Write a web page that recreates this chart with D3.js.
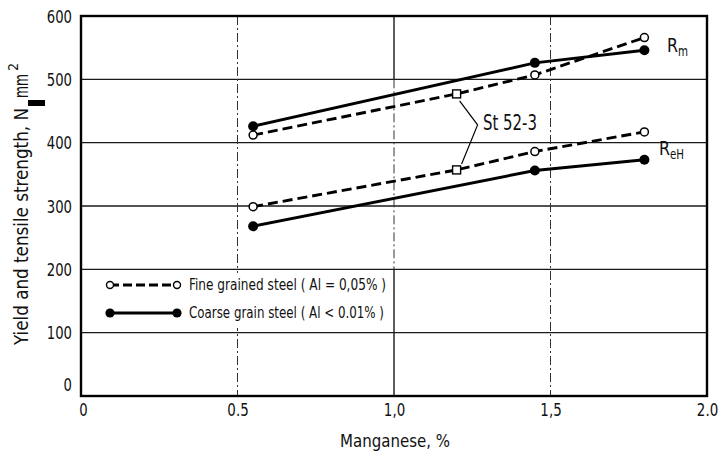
<!DOCTYPE html>
<html>
<head>
<meta charset="utf-8">
<script src="https://cdn.jsdelivr.net/npm/d3@7/dist/d3.min.js"></script>
<style>
  html, body { margin: 0; padding: 0; background: #fff; }
  svg { display: block; }
  text { font-family: "Liberation Sans Narrow", "DejaVu Sans Condensed", "Liberation Sans", Arial, sans-serif; fill: #111; }
</style>
</head>
<body>
<svg id="chart" width="726" height="455"></svg>
<script>
// Manganese content (%) of the measured steels
const mn = [0.55, 1.45, 1.8];
// Tensile strength Rm, N/mm²
const fineRm = [412, 507, 566];
const coarseRm = [426, 526, 546];
// Upper yield strength ReH, N/mm²
const fineReH = [299, 386, 417];
const coarseReH = [268, 356, 373];
// St 52-3 reference points on the fine-grained curves
const st52Mn = 1.2;
const st52Rm = 477;
const st52ReH = 357;

const xTicks = [0, 0.5, 1.0, 1.5, 2.0];
const xTickLabels = ["0", "0.5", "1,0", "1,5", "2.0"];
const yTicks = [0, 100, 200, 300, 400, 500, 600];
const yTickLabels = ["0", "100", "200", "300", "400", "500", "600"];

const FONT = '"Liberation Sans Narrow", "DejaVu Sans Condensed", "Liberation Sans", Arial, sans-serif';
// narrow lettering: width from digit count, punctuation narrower
const narrowLen = s => Array.from(s).reduce((w, c) => w + (/[0-9]/.test(c) ? 8.4 : 4.5), 0);

const svg = d3.select("#chart");
const x = d3.scaleLinear().domain([0, 2]).range([81, 707]);
const y = d3.scaleLinear().domain([0, 600]).range([396, 16]);

// ---- grid ----
const grid = svg.append("g");
grid.selectAll("line.h").data([100, 200, 300, 400, 500]).join("line")
  .attr("x1", x(0)).attr("x2", x(2))
  .attr("y1", d => y(d)).attr("y2", d => y(d))
  .attr("stroke", "#1a1a1a").attr("stroke-width", 1.3);
// dash-dot verticals at 0.5 and 1.5
grid.selectAll("line.v").data([0.5, 1.5]).join("line")
  .attr("x1", d => x(d)).attr("x2", d => x(d))
  .attr("y1", y(600)).attr("y2", y(0))
  .attr("stroke", "#333").attr("stroke-width", 1)
  .attr("stroke-dasharray", "9,3,2,3");
// 1.0 vertical: solid near the frame, dash-dot in the middle
grid.append("line").attr("x1", x(1)).attr("x2", x(1)).attr("y1", y(600)).attr("y2", y(500))
  .attr("stroke", "#1a1a1a").attr("stroke-width", 1.4);
grid.append("line").attr("x1", x(1)).attr("x2", x(1)).attr("y1", y(500)).attr("y2", y(200))
  .attr("stroke", "#333").attr("stroke-width", 1).attr("stroke-dasharray", "9,3,2,3");
grid.append("line").attr("x1", x(1)).attr("x2", x(1)).attr("y1", y(200)).attr("y2", y(0))
  .attr("stroke", "#1a1a1a").attr("stroke-width", 1.4);

// ---- frame ----
svg.append("rect")
  .attr("x", x(0)).attr("y", y(600))
  .attr("width", x(2) - x(0)).attr("height", y(0) - y(600))
  .attr("fill", "none").attr("stroke", "#000").attr("stroke-width", 2.4);

// ---- axes ----
const xAxis = d3.axisBottom(x).tickValues(xTicks).tickSize(0).tickPadding(7)
  .tickFormat((d, i) => xTickLabels[i]);
const gx = svg.append("g").attr("transform", `translate(0,${y(0)})`).call(xAxis);
gx.select(".domain").remove();
gx.selectAll("text").attr("font-size", 18).attr("fill", "#111").attr("font-family", FONT)
  .attr("textLength", (d, i) => narrowLen(xTickLabels[i])).attr("lengthAdjust", "spacingAndGlyphs")
  .attr("dx", (d, i) => i === 0 ? 2 : 0);

const yAxis = d3.axisLeft(y).tickValues(yTicks).tickSize(0).tickPadding(9)
  .tickFormat((d, i) => yTickLabels[i]);
const gy = svg.append("g").attr("transform", `translate(${x(0)},0)`).call(yAxis);
gy.select(".domain").remove();
gy.selectAll("text").attr("font-size", 18).attr("fill", "#111").attr("font-family", FONT)
  .attr("textLength", (d, i) => narrowLen(yTickLabels[i])).attr("lengthAdjust", "spacingAndGlyphs")
  .attr("dy", d => d === 0 ? "-0.3em" : "0.34em");

// x-axis title
svg.append("text").attr("x", 395).attr("y", 447).attr("text-anchor", "middle")
  .attr("font-size", 18).attr("textLength", 110).attr("lengthAdjust", "spacingAndGlyphs")
  .text("Manganese, %");

// y-axis title (rotated), with the solid block standing in for the slash
const yl = svg.append("g").attr("transform", "translate(28,345) rotate(-90)");
yl.append("text").attr("x", 0).attr("y", 0).attr("font-size", 20)
  .attr("textLength", 237).attr("lengthAdjust", "spacingAndGlyphs")
  .text("Yield and tensile strength, N");
yl.append("rect").attr("x", 239).attr("y", 0).attr("width", 6).attr("height", 17).attr("fill", "#000");
yl.append("text").attr("x", 247).attr("y", 0).attr("font-size", 20)
  .attr("textLength", 24).attr("lengthAdjust", "spacingAndGlyphs").text("mm");
yl.append("text").attr("x", 274).attr("y", -10).attr("font-size", 14).text("2");

// ---- series ----
const dashPts = (vals, st) => {
  const p = mn.map((m, i) => [m, vals[i]]);
  p.push([st52Mn, st]);
  return p.sort((a, b) => a[0] - b[0]);
};
const line = d3.line().x(d => x(d[0])).y(d => y(d[1]));

const curves = [
  { pts: dashPts(fineRm, st52Rm), dashed: true },
  { pts: dashPts(fineReH, st52ReH), dashed: true },
  { pts: mn.map((m, i) => [m, coarseRm[i]]), dashed: false },
  { pts: mn.map((m, i) => [m, coarseReH[i]]), dashed: false }
];
svg.append("g").selectAll("path").data(curves).join("path")
  .attr("d", d => line(d.pts))
  .attr("fill", "none").attr("stroke", "#000").attr("stroke-width", 2.9)
  .attr("stroke-dasharray", d => d.dashed ? "10,5" : null);

// St 52-3 leader
svg.append("path")
  .attr("d", `M${x(st52Mn) + 3},${y(st52Rm) + 7} L${x(st52Mn) + 21},${y(st52Rm) + 31} L${x(st52Mn) + 5},${y(st52ReH) - 6}`)
  .attr("fill", "none").attr("stroke", "#000").attr("stroke-width", 1.2);

// markers
const fineMarks = mn.flatMap((m, i) => [[m, fineRm[i]], [m, fineReH[i]]]);
const coarseMarks = mn.flatMap((m, i) => [[m, coarseRm[i]], [m, coarseReH[i]]]);
svg.append("g").selectAll("circle").data(fineMarks).join("circle")
  .attr("cx", d => x(d[0])).attr("cy", d => y(d[1])).attr("r", 4)
  .attr("fill", "#fff").attr("stroke", "#000").attr("stroke-width", 1.5);
svg.append("g").selectAll("circle").data(coarseMarks).join("circle")
  .attr("cx", d => x(d[0])).attr("cy", d => y(d[1])).attr("r", 5)
  .attr("fill", "#000");
svg.append("g").selectAll("rect").data([st52Rm, st52ReH]).join("rect")
  .attr("x", x(st52Mn) - 4).attr("y", d => y(d) - 4)
  .attr("width", 8).attr("height", 8)
  .attr("fill", "#fff").attr("stroke", "#000").attr("stroke-width", 1.4);

// curve labels
svg.append("text").attr("x", 483).attr("y", 130).attr("font-size", 21)
  .attr("textLength", 54).attr("lengthAdjust", "spacingAndGlyphs").text("St 52-3");
const rm = svg.append("text").attr("x", 667).attr("y", 52).attr("font-size", 20);
rm.append("tspan").attr("textLength", 11).attr("lengthAdjust", "spacingAndGlyphs").text("R");
rm.append("tspan").attr("font-size", 14).attr("dy", 4)
  .attr("textLength", 10).attr("lengthAdjust", "spacingAndGlyphs").text("m");
const reh = svg.append("text").attr("x", 659).attr("y", 155).attr("font-size", 20);
reh.append("tspan").attr("textLength", 11).attr("lengthAdjust", "spacingAndGlyphs").text("R");
reh.append("tspan").attr("font-size", 14).attr("dy", 4)
  .attr("textLength", 14).attr("lengthAdjust", "spacingAndGlyphs").text("eH");

// ---- legend ----
const lg = svg.append("g");
lg.append("rect").attr("x", 88).attr("y", 273).attr("width", 303).attr("height", 55).attr("fill", "#fff");
const legendRows = [
  { label: "Fine grained steel  ( Al = 0,05% )", dashed: true, yy: 285, len: 197 },
  { label: "Coarse grain steel ( Al < 0.01% )", dashed: false, yy: 313, len: 195 }
];
legendRows.forEach(r => {
  lg.append("line").attr("x1", 110).attr("x2", 177).attr("y1", r.yy).attr("y2", r.yy)
    .attr("stroke", "#000").attr("stroke-width", 2.8)
    .attr("stroke-dasharray", r.dashed ? "9,4" : null);
  [110, 177].forEach(cx => {
    lg.append("circle").attr("cx", cx).attr("cy", r.yy).attr("r", r.dashed ? 3.5 : 4.6)
      .attr("fill", r.dashed ? "#fff" : "#000")
      .attr("stroke", "#000").attr("stroke-width", r.dashed ? 1.4 : 0);
  });
  lg.append("text").attr("x", 189).attr("y", r.yy + 5).attr("font-size", 15)
    .attr("textLength", r.len).attr("lengthAdjust", "spacingAndGlyphs").text(r.label);
});
</script>
</body>
</html>
